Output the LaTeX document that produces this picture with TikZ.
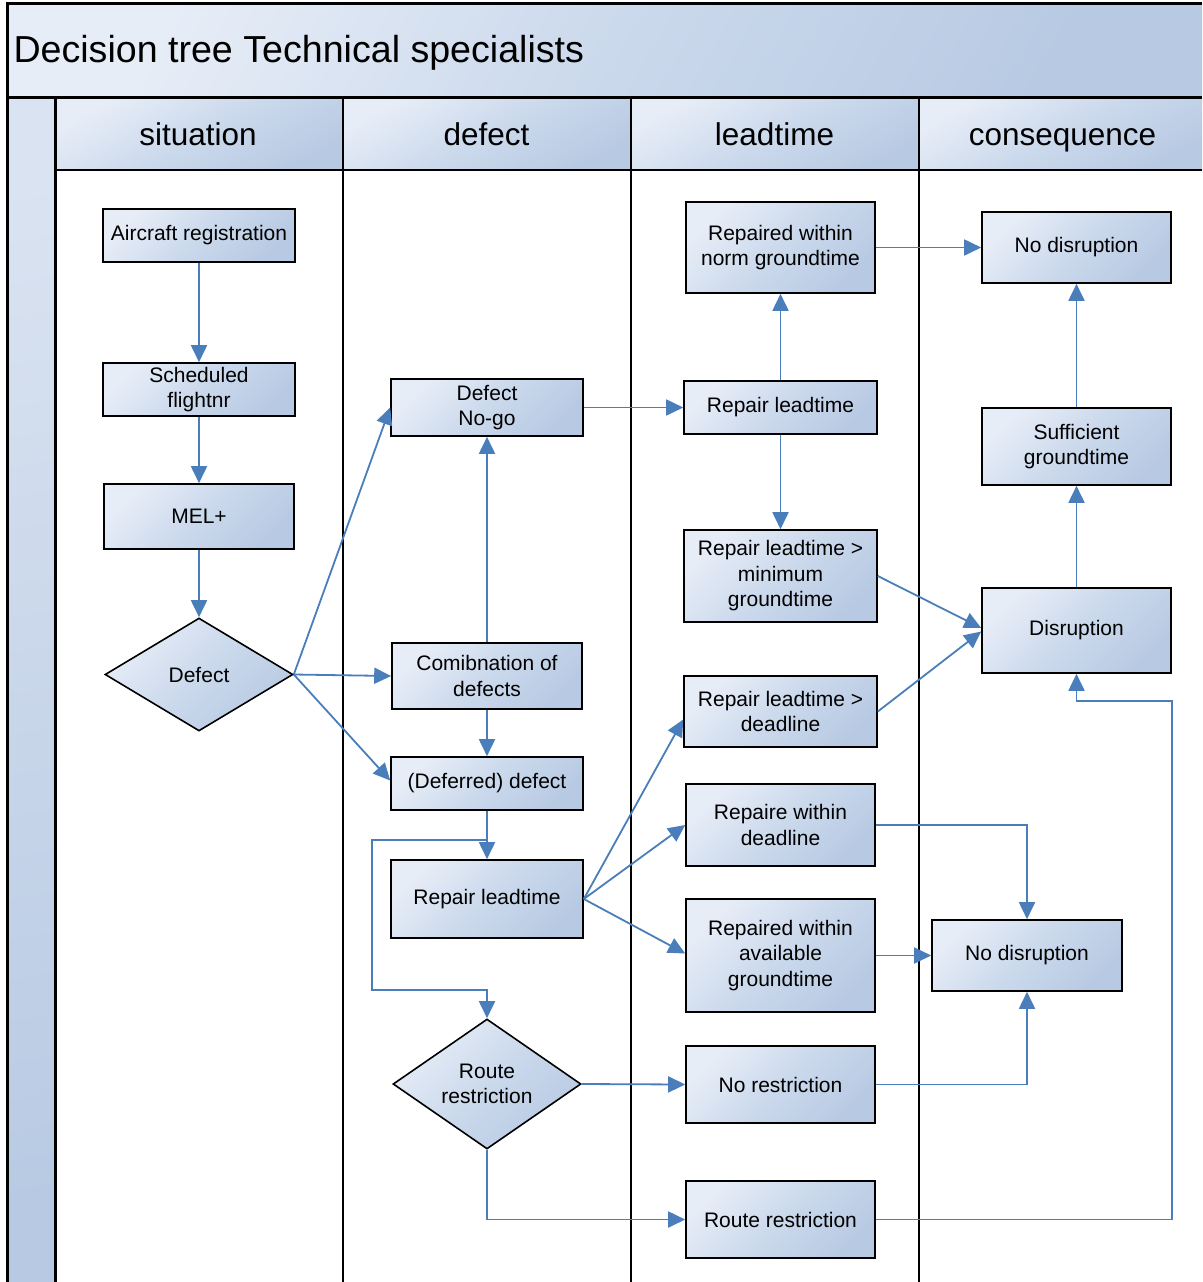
\documentclass[tikz,border=0pt]{standalone}
\usepackage{fontspec}
\setmainfont{Liberation Sans}
\usetikzlibrary{shapes.geometric,arrows.meta}
\definecolor{boxlight}{RGB}{231,237,247}
\definecolor{boxmid}{RGB}{203,217,236}
\definecolor{boxdark}{RGB}{184,202,227}
\definecolor{striplight}{RGB}{218,227,241}
\definecolor{flow}{RGB}{74,126,187}
\begin{document}
\begin{tikzpicture}[x=1pt,y=-1pt,
  shaded/.style={top color=boxlight, bottom color=boxdark, middle color=boxmid, shading angle=45},
  box/.style={shaded, draw=black, line width=1.6pt, align=center, inner sep=2pt,
    font=\fontsize{21}{25.5}\selectfont},
  dia/.style={box, diamond, aspect=1.6, inner sep=0pt},
  flow/.style={draw=flow, line width=1.8pt, -{Triangle[length=17pt,width=16pt]}},
  lane/.style={line width=2pt},
  headtext/.style={anchor=base, font=\fontsize{31.5}{36}\selectfont}
]
\useasboundingbox (0,0) rectangle (1202,1282);

% title band, lane headers and left strip
\path[top color=boxlight, bottom color=boxdark, middle color=boxmid, shading angle=60]
  (7,3) rectangle (1202,97);
\path[top color=striplight, bottom color=boxdark, shading angle=10]
  (7,97) rectangle (55,1282);
\foreach \xa/\xb in {55/343, 343/631, 631/919, 919/1202}
  \path[top color=boxlight, bottom color=boxdark, middle color=boxmid, shading angle=30]
    (\xa,99) rectangle (\xb,170);

\node[anchor=base west, font=\fontsize{37.6}{42}\selectfont] (title) at (10,62)
  {Decision tree Technical specialists};
\node[headtext] (hsit) at (198,145) {situation};
\node[headtext] (hdef) at (486.5,145) {defect};
\node[headtext] (hlead) at (774.5,145) {leadtime};
\node[headtext] (hcons) at (1062.5,145) {consequence};

\draw[line width=3pt] (1202,3) -- (7,3) -- (7,1282);
\draw[line width=3pt] (7,97) -- (1202,97);
\draw[line width=3pt] (55,97) -- (55,1282);
\draw[lane] (55,170) -- (1202,170);
\foreach \xl in {343,631,919}
  \draw[lane] (\xl,99) -- (\xl,1282);

% situation lane
\node[box, minimum width=192pt, minimum height=53pt] (acreg) at (199,235.5) {Aircraft registration};
\node[box, minimum width=192pt, minimum height=53pt] (sched) at (199,389.5) {Scheduled\\flightnr};
\node[box, minimum width=190pt, minimum height=65pt] (mel) at (199,516.5) {MEL+};
\node[dia, minimum width=188pt, minimum height=113pt] (defect) at (199,674.5) {Defect};

% defect lane
\node[box, minimum width=192pt, minimum height=57pt] (nogo) at (487,407.5) {Defect\\No-go};
\node[box, minimum width=190pt, minimum height=66pt] (combi) at (487,676) {Comibnation of\\defects};
\node[box, minimum width=192pt, minimum height=53pt] (deferred) at (487,783.5) {(Deferred) defect};
\node[box, minimum width=192pt, minimum height=78pt] (rlA) at (487,899) {Repair leadtime};
\node[dia, minimum width=188pt, minimum height=130pt] (route) at (487,1084) {Route\\restriction};

% leadtime lane
\node[box, minimum width=189pt, minimum height=91pt] (norm) at (780.5,247.5) {Repaired within\\norm groundtime};
\node[box, minimum width=193pt, minimum height=53pt] (rlB) at (780.5,407.5) {Repair leadtime};
\node[box, minimum width=193pt, minimum height=92pt] (rlmin) at (780.5,576) {Repair leadtime >\\minimum\\groundtime};
\node[box, minimum width=193pt, minimum height=71pt] (rldl) at (780.5,711.5) {Repair leadtime >\\deadline};
\node[box, minimum width=189pt, minimum height=82pt] (wdl) at (780.5,825) {Repaire within\\deadline};
\node[box, minimum width=189pt, minimum height=113pt] (avail) at (780.5,955.5) {Repaired within\\available\\groundtime};
\node[box, minimum width=189pt, minimum height=77pt] (norestr) at (780.5,1084.5) {No restriction};
\node[box, minimum width=189pt, minimum height=77pt] (restr) at (780.5,1219.5) {Route restriction};

% consequence lane
\node[box, minimum width=189pt, minimum height=71pt] (nodisA) at (1076.5,247.5) {No disruption};
\node[box, minimum width=189pt, minimum height=77pt] (suff) at (1076.5,446.5) {Sufficient\\groundtime};
\node[box, minimum width=189pt, minimum height=85pt] (disr) at (1076.5,630.5) {Disruption};
\node[box, minimum width=190pt, minimum height=71pt] (nodisB) at (1027,955.5) {No disruption};

% bend points
\coordinate (split) at (487,840);
\coordinate (loopbottom) at (372,990);
\coordinate (backR) at (1172,701);

% connectors
\draw[flow] (acreg) -- (sched);
\draw[flow] (sched) -- (mel);
\draw[flow] (mel) -- (defect);
\draw[flow] (defect.east) -- (nogo.west);
\draw[flow] (defect.east) -- (combi.west);
\draw[flow] (defect.east) -- ([yshift=3pt]deferred.west);
\draw[flow] (combi) -- (nogo);
\draw[flow] (combi) -- (deferred);
\draw[flow] (deferred) -- (rlA);
\draw[flow] (deferred.south) -- (split) -| (loopbottom) -| (route.north);
\draw[flow] (nogo) -- (rlB);
\draw[flow] (rlB) -- (norm);
\draw[flow] (rlB) -- (rlmin);
\draw[flow] (norm) -- (nodisA);
\draw[flow] (rlmin.east) -- ([yshift=2.5pt]disr.west);
\draw[flow] (rldl.east) -- ([yshift=-1pt]disr.west);
\draw[flow] (disr) -- (suff);
\draw[flow] (suff) -- (nodisA);
\draw[flow] (rlA.east) -- ([yshift=-8pt]rldl.west);
\draw[flow] (rlA.east) -- (wdl.west);
\draw[flow] (rlA.east) -- ([yshift=2pt]avail.west);
\draw[flow] (wdl.east) -| (nodisB.north);
\draw[flow] (avail) -- (nodisB);
\draw[flow] (route.east) -- (norestr.west);
\draw[flow] (norestr.east) -| (nodisB.south);
\draw[flow] (route.south) |- (restr.west);
\draw[flow] (restr.east) -| (backR) -| (disr.south);
\end{tikzpicture}
\end{document}
